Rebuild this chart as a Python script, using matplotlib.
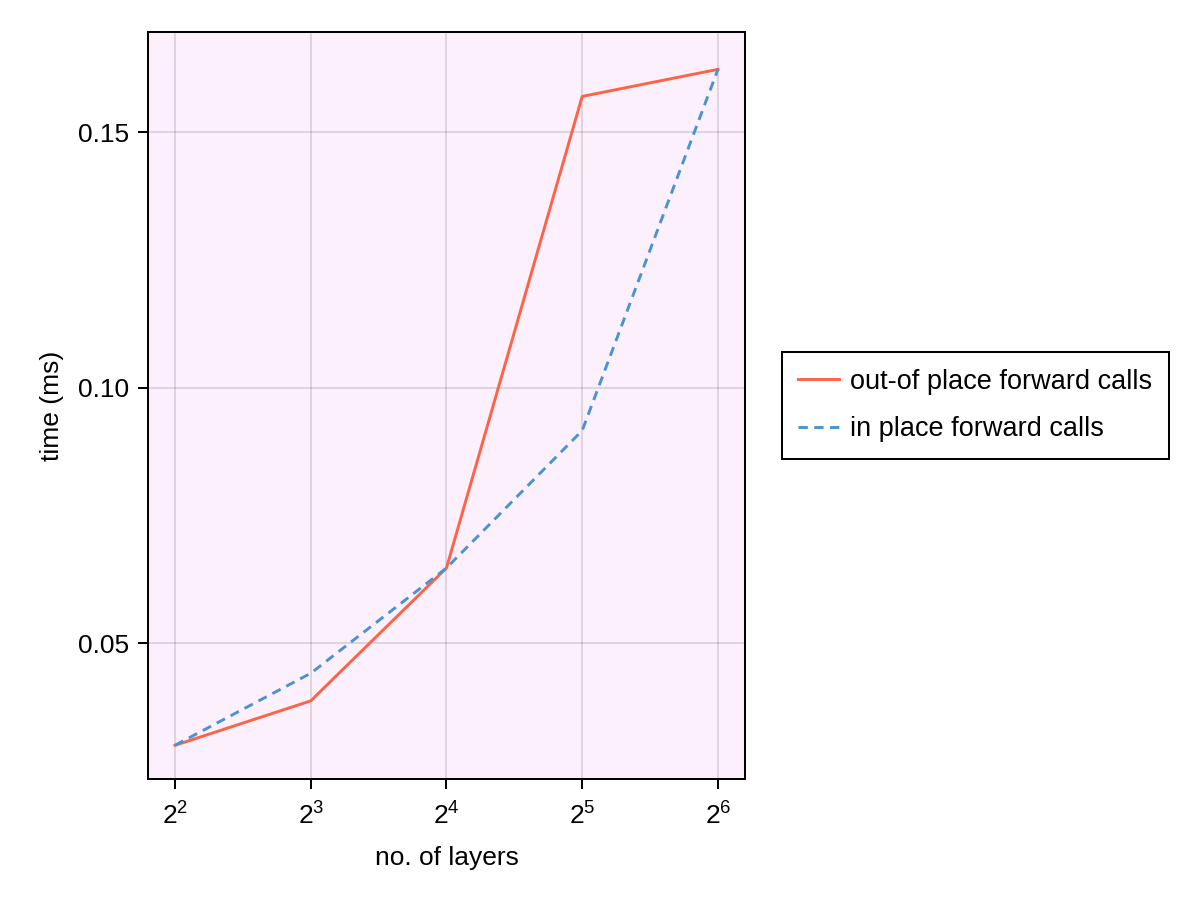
import matplotlib.pyplot as plt
import matplotlib.ticker as mticker

plt.rcParams['font.family'] = ['Liberation Sans', 'DejaVu Sans']

layers = [4, 8, 16, 32, 64]
out_of_place = [0.0300, 0.0387, 0.0647, 0.1570, 0.1623]
in_place = [0.0300, 0.0441, 0.0647, 0.0916, 0.1623]

fig = plt.figure(figsize=(12, 9), dpi=100)
ax = fig.add_axes([0.1233, 0.1344, 0.4975, 0.83])
ax.set_facecolor('#fdf0fd')

ax.plot(layers, out_of_place, color='#ff6347', lw=2.1, label='out-of place forward calls')
ax.plot(layers, in_place, color='#4a93d0', lw=2.1, ls=(0, (3.2, 2.2)), label='in place forward calls')

ax.set_xscale('log', base=2)
ax.set_xlim(2 ** 1.801, 2 ** 6.199)
ax.set_ylim(0.0234, 0.1696)
ax.xaxis.set_major_locator(mticker.FixedLocator(layers))
ax.xaxis.set_major_formatter(mticker.FixedFormatter([rf'$\mathregular{{2^{{{i}}}}}$' for i in range(2, 7)]))
ax.xaxis.set_minor_locator(mticker.NullLocator())
ax.set_yticks([0.05, 0.10, 0.15])
ax.set_yticklabels(['0.05', '0.10', '0.15'])

ax.grid(True, color='black', alpha=0.12, lw=1.4)
ax.set_axisbelow(True)
for s in ax.spines.values():
    s.set_linewidth(1.45)
ax.tick_params(labelsize=19, length=7.5, width=1.45, pad=6)
ax.tick_params(axis='x', pad=9)
ax.set_xlabel('no. of layers', fontsize=19, labelpad=12)
ax.set_ylabel('time (ms)', fontsize=19, labelpad=10)

leg = ax.legend(loc='center left', bbox_to_anchor=(1.062, 0.5), borderaxespad=0,
                fontsize=19.5, frameon=True, fancybox=False, edgecolor='black',
                framealpha=1, handlelength=1.5, handletextpad=0.42,
                borderpad=0.6, labelspacing=0.8)
leg.get_frame().set_linewidth(1.45)

fig.savefig('out.png', dpi=100)
